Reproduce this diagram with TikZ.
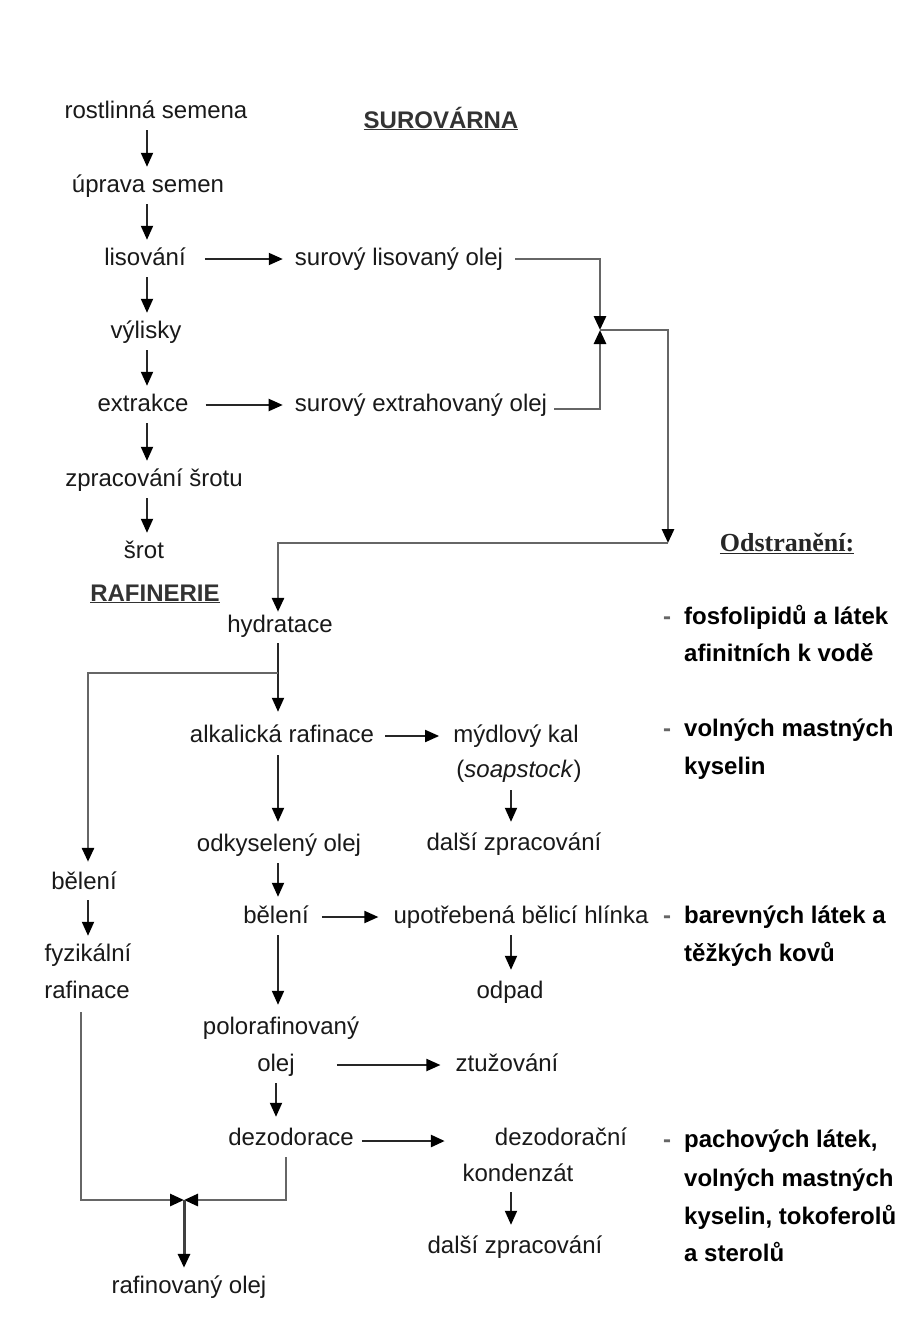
\documentclass[tikz,border=0pt]{standalone}
\usepackage{fontspec}
\setmainfont{Liberation Sans}
\newfontfamily\serifbold{Liberation Serif}
\usetikzlibrary{arrows.meta,calc}
\begin{document}
\begin{tikzpicture}[x=1pt,y=-1pt,
  every node/.style={font=\fontsize{24}{28}\selectfont, text height=17pt, text depth=5pt, inner sep=0pt, text=black!90},
  tip/.style={-{Triangle[length=14pt,width=12pt,black]}},
  arr/.style={draw=black!85, line width=1.9pt, tip},
  varr/.style={arr, shorten <=7pt, shorten >=8pt},
  route/.style={draw=black!60, line width=2.8pt},
  ttl/.style={font=\bfseries\fontsize{24}{28}\selectfont, text=black!80},
  rt/.style={anchor=west, font=\bfseries\fontsize{24}{28}\selectfont, text=black},
  dsh/.style={font=\bfseries\fontsize{24}{28}\selectfont, text=black!60}
]
\useasboundingbox (0,0) rectangle (921,1328);
\fill[white] (0,0) rectangle (921,1328);

% --- SUROVARNA ---
\node (rs) at (156,112) {rostlinná semena};
\node (us) at (148,186) {úprava semen};
\node (lis) at (145,259) {lisování};
\node (slo) at (399,259) {surový lisovaný olej};
\node (vyl) at (146,332) {výlisky};
\node (ext) at (143,405) {extrakce};
\node (seo) at (421,405) {surový extrahovaný olej};
\node (zs) at (154,480) {zpracování šrotu};
\node (srot) at (144,552) {šrot};
\node[ttl] (sur) at (441,122) {\underline{SUROVÁRNA}};

% --- RAFINERIE ---
\node[ttl] (raf) at (155,595) {\underline{RAFINERIE}};
\node (hyd) at (280,626) {hydratace};
\node (alk) at (282,736) {alkalická rafinace};
\node (myd) at (516,736) {mýdlový kal};
\node (soap) at (519,771) {(\textit{soapstock})};
\node (dz1) at (514,844) {další zpracování};
\node (odk) at (279,845) {odkyselený olej};
\node (bel) at (276,917) {bělení};
\node (hlin) at (521,917) {upotřebená bělicí hlínka};
\node (odp) at (510,992) {odpad};
\node (polo) at (281,1028) {polorafinovaný};
\node (polo2) at (276,1065) {olej};
\node (ztu) at (507,1065) {ztužování};
\node (dez) at (291,1139) {dezodorace};
\node (dk1) at (561,1139) {dezodorační};
\node (dk2) at (518,1175) {kondenzát};
\node (dz2) at (515,1247) {další zpracování};
\node (rol) at (189,1287) {rafinovaný olej};
\node (bel2) at (84,883) {bělení};
\node (fyz) at (88,955) {fyzikální};
\node (fyz2) at (87,992) {rafinace};

% --- Odstraneni ---
\node[font=\serifbold\bfseries\fontsize{26}{30}\selectfont, text=black!85] (ods) at (787,545) {\underline{Odstranění:}};
\node[dsh] (d1) at (667,618) {-};
\node[rt] (r1a) at (684,618) {fosfolipidů a látek};
\node[rt] (r1b) at (684,655) {afinitních k vodě};
\node[dsh] (d2) at (667,730) {-};
\node[rt] (r2a) at (684,730) {volných mastných};
\node[rt] (r2b) at (684,768) {kyselin};
\node[dsh] (d3) at (667,917) {-};
\node[rt] (r3a) at (684,917) {barevných látek a};
\node[rt] (r3b) at (684,955) {těžkých kovů};
\node[dsh] (d4) at (667,1141) {-};
\node[rt] (r4a) at (684,1141) {pachových látek,};
\node[rt] (r4b) at (684,1180) {volných mastných};
\node[rt] (r4c) at (684,1218) {kyselin, tokoferolů};
\node[rt] (r4d) at (684,1255) {a sterolů};

% --- coordinates ---
\coordinate (cA) at (147,0);
\coordinate (cR) at (278,0);
\coordinate (cS) at (511,0);
\coordinate (jn) at (600,330);
\coordinate (c1) at (668,543);
\coordinate (b1) at (278,673);
\coordinate (jb) at (184,1200);

% --- top column arrows ---
\draw[varr] (rs.south -| cA) -- (us.north -| cA);
\draw[varr] (us.south -| cA) -- (lis.north -| cA);
\draw[varr] (lis.south -| cA) -- (vyl.north -| cA);
\draw[varr] (vyl.south -| cA) -- (ext.north -| cA);
\draw[varr] (ext.south -| cA) -- (zs.north -| cA);
\draw[varr] (zs.south -| cA) -- (srot.north -| cA);
\draw[arr, shorten <=19pt, shorten >=12pt] (lis.east) -- (lis.east -| slo.west);
\draw[arr, shorten <=17pt, shorten >=12pt] (ext.east) -- (ext.east -| seo.west);

% --- merge of crude oils ---
\draw[route, tip] ([xshift=12pt]slo.east) -| (jn);
\draw[route, tip] ([xshift=7pt,yshift=-4pt]seo.east) -| (jn);
\draw[route, tip] (jn) -| (c1);
\draw[route, tip, shorten >=3pt] (c1) -| (hyd.north -| cR);

% --- refinery main column ---
\draw[arr, shorten <=6pt, shorten >=13pt] (hyd.south -| cR) -- (alk.north -| cR);
\draw[route, tip] (b1) -| ([xshift=4pt,yshift=10pt]bel2.north);
\draw[arr, shorten <=11pt, shorten >=14pt] (alk.east) -- (alk.east -| myd.west);
\draw[arr, shorten <=8pt, shorten >=11pt] (soap.south -| cS) -- (dz1.north -| cS);
\draw[arr, shorten <=8pt, shorten >=12pt] (alk.south -| cR) -- (odk.north -| cR);
\draw[arr, shorten <=7pt, shorten >=9pt] (odk.south -| cR) -- (bel.north -| cR);
\draw[arr, shorten <=13pt, shorten >=15pt] (bel.east) -- (bel.east -| hlin.west);
\draw[arr, shorten <=7pt, shorten >=11pt] (hlin.south -| cS) -- (odp.north -| cS);
\draw[arr, shorten <=7pt, shorten >=12pt] (bel.south -| cR) -- (polo.north -| cR);
\draw[arr, shorten <=42pt, shorten >=15pt] (polo2.east) -- (polo2.east -| ztu.west);
\draw[arr, shorten <=7pt, shorten >=11pt] (polo2.south) -- (dez.north -| polo2.south);
\draw[arr, line width=2.8pt, shorten <=8pt, shorten >=50pt] ([yshift=-2pt]dez.east) -- ([yshift=-2pt]dez.east -| dk1.west);
\draw[arr, shorten <=6pt, shorten >=11pt] (dk2.south -| cS) -- (dz2.north -| cS);
\draw[arr, shorten <=6pt, shorten >=8pt] ([xshift=4pt]bel2.south) -- ([xshift=4pt]bel2.south |- fyz.north);

% --- final merge ---
\draw[route, tip, shorten <=7pt] ([xshift=-5pt]dez.south) |- (jb);
\draw[route, tip, shorten <=9pt] ([xshift=-6pt]fyz2.south) |- (jb);
\draw[route, tip, draw=black!75, line width=3pt, shorten >=8pt] (jb) -- (jb |- rol.north);
\end{tikzpicture}
\end{document}
